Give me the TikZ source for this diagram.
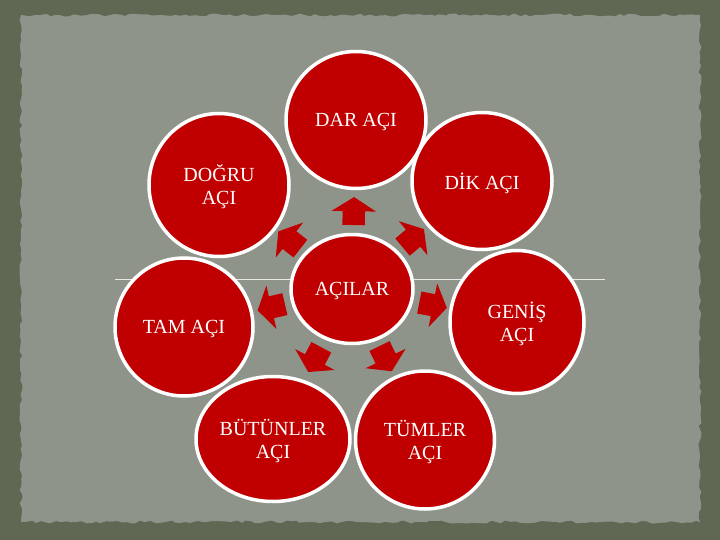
\documentclass[tikz,border=0pt]{standalone}
\usepackage{fontspec}
\setmainfont{Liberation Serif}
\usetikzlibrary{shapes.geometric,shapes.arrows,calc,decorations.pathmorphing}
\definecolor{koyu}{RGB}{96,104,84}
\definecolor{acik}{RGB}{143,148,138}
\definecolor{kirmizi}{RGB}{192,0,0}

\begin{document}
\begin{tikzpicture}[x=1pt,y=-1pt]
	\tikzstyle{daire} = [ellipse,line width=3.5pt,draw=white,fill=kirmizi,text=white,
	align=center,inner sep=0pt,text depth=0pt,font=\fontsize{20}{23}\selectfont]
	\tikzstyle{ok} = [single arrow,fill=kirmizi,inner xsep=0pt,inner ysep=11pt,
	minimum height=28pt,single arrow head extend=11pt,single arrow tip angle=115]

    % zemin
    \useasboundingbox (0,0) rectangle (720,540);
    \fill[koyu] (0,0) rectangle (720,540);
    \fill[acik,decorate,decoration={random steps,segment length=5pt,amplitude=1.5pt}]
        (21,15) rectangle (700,522);
    \draw[white!80!acik,line width=0.8pt] (115,279) -- (605,279);

    % daireler
    \node (node1) [daire, minimum width=140pt, minimum height=137pt] at (356,120) {DAR AÇI};
    \node (node2) [daire, minimum width=140pt, minimum height=137pt] at (482,181) {DİK AÇI};
    \node (node3) [daire, minimum width=134pt, minimum height=143pt] at (517,322) {GENİŞ\\AÇI};
    \node (node4) [daire, minimum width=139pt, minimum height=138pt] at (425,440) {TÜMLER\\AÇI};
    \node (node5) [daire, minimum width=154pt, minimum height=125pt] at (273,439) {BÜTÜNLER\\AÇI};
    \node (node6) [daire, minimum width=138pt, minimum height=138pt] at (184,327) {TAM AÇI};
    \node (node7) [daire, minimum width=140pt, minimum height=143pt] at (219,185) {DOĞRU\\AÇI};
    \node (node0) [daire, minimum width=122pt, minimum height=109pt] at (352,289) {AÇILAR};

    % oklar
    \node (ok1) [ok, rotate=89]  at ($(node0)!0.44!(node1)$) {};
    \node (ok2) [ok, rotate=40]  at ($(node0)!0.45!(node2)$) {};
    \node (ok3) [ok, rotate=-11] at ($(node0)!0.47!(node3)$) {};
    \node (ok4) [ok, rotate=-64] at ($(node0)!0.44!(node4)$) {};
    \node (ok5) [ok, rotate=242] at ($(node0)!0.45!(node5)$) {};
    \node (ok6) [ok, rotate=193] at ($(node0)!0.46!(node6)$) {};
    \node (ok7) [ok, rotate=142] at ($(node0)!0.45!(node7)$) {};
\end{tikzpicture}
\end{document}
